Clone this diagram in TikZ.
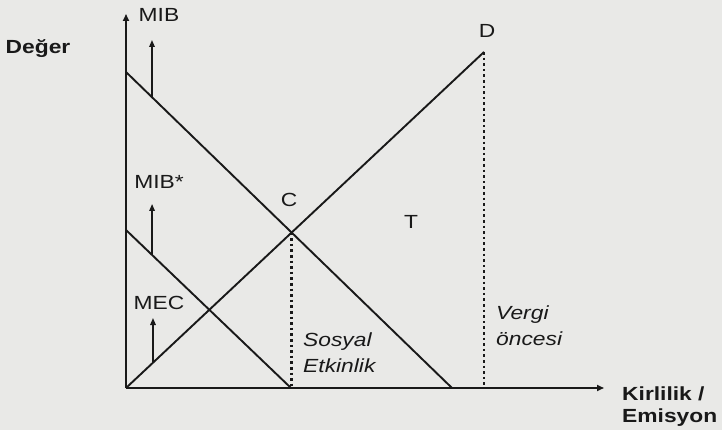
\documentclass[tikz,border=0pt]{standalone}
\usepackage{fontspec}
\setmainfont{Liberation Sans}[FakeStretch=1.2]
\usetikzlibrary{arrows.meta,calc}
\definecolor{bgc}{RGB}{233,233,231}
\definecolor{ink}{RGB}{25,25,25}
\tikzset{
  lbl/.style={font=\fontsize{19}{22}\selectfont, text=ink, inner sep=0pt},
  blbl/.style={lbl, font=\fontsize{19}{22}\selectfont\bfseries},
  ilbl/.style={font=\fontsize{19}{26}\selectfont\itshape, text=ink, inner sep=0pt, align=left},
  curve/.style={draw=ink, line width=1.9pt},
  axis/.style={draw=ink, line width=1.6pt, -{Triangle[length=7pt,width=6pt]}},
  shift arrow/.style={draw=ink, line width=1.5pt, -{Triangle[length=7pt,width=5.5pt]}},
  guide/.style={draw=ink, line width=2.6pt, dash pattern=on 2.6pt off 3pt}
}
\begin{document}
\begin{tikzpicture}[x=1pt,y=-1pt]
\fill[bgc] (0,0) rectangle (722,430);
\useasboundingbox (0,0) rectangle (722,430);
% key points
\coordinate (O) at (126,388);
\coordinate (Ytop) at (126,14);
\coordinate (Xend) at (604,388);
\coordinate (A) at (126,72);
\coordinate (B) at (452,388);
\coordinate (As) at (126,230);
\coordinate (Bs) at (291,388);
\coordinate (D) at (484,52);
\coordinate (C) at (intersection of A--B and O--D);
% axes
\draw[axis] (O) -- (Ytop);
\draw[axis] (O) -- (Xend);
% curves
\draw[curve] (A) -- (B);
\draw[curve] (As) -- (Bs);
\draw[curve] (O) -- (D);
% dashed guides
\draw[guide] (C) -- (C |- O);
\draw[guide] (D) -- (D |- O);
% shift arrows
\path (A) -- (B) coordinate[pos=0.0797] (a1);
\path (As) -- (Bs) coordinate[pos=0.158] (a2);
\path (O) -- (D) coordinate[pos=0.0754] (a3);
\coordinate (t1) at (a1 |- 0,40);
\coordinate (t2) at (a2 |- 0,204);
\coordinate (t3) at (a3 |- 0,318);
\draw[shift arrow] (a1) -- (t1);
\draw[shift arrow] (a2) -- (t2);
\draw[shift arrow] (a3) -- (t3);
% labels
\node[blbl] (deger) at (38,49) {Değer};
\node[lbl] (mib) at (159,15) {MIB};
\node[lbl] (dl) at (487,31) {D};
\node[lbl] (mibs) at (159,182) {MIB*};
\node[lbl] (cl) at (289,200) {C};
\node[lbl] (tl) at (411,222) {T};
\node[lbl] (mec) at (159,303) {MEC};
\node[ilbl, anchor=west] (sos) at (303,353) {Sosyal\\Etkinlik};
\node[ilbl, anchor=west] (ver) at (496,326) {Vergi\\öncesi};
\node[blbl, anchor=west, align=left] (kir) at (622,407) {Kirlilik /\\Emisyon};
\end{tikzpicture}
\end{document}
